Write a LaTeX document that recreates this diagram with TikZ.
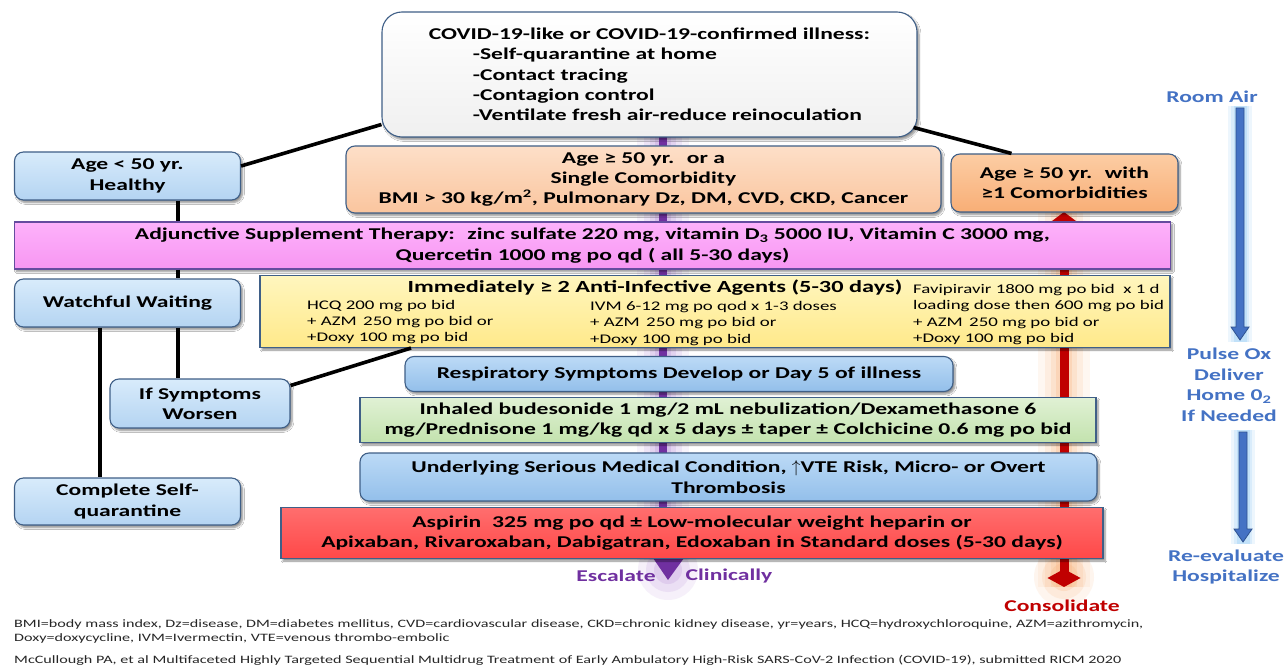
\documentclass[tikz,border=0pt]{standalone}
\usepackage{fontspec}
\setmainfont{Carlito}[FakeStretch=1.43]
\usetikzlibrary{arrows.meta,shadows.blur,calc}
\pgfdeclarelayer{bg}
\pgfsetlayers{bg,main}
\definecolor{bordc}{HTML}{3F5F87}
\definecolor{ltT}{HTML}{D8EBFB}
\definecolor{ltB}{HTML}{B4D4F2}
\definecolor{mdT}{HTML}{BCDAF6}
\definecolor{mdB}{HTML}{93BFEA}
\definecolor{pcT}{HTML}{FDDFC8}
\definecolor{pcB}{HTML}{FAC59E}
\definecolor{orT}{HTML}{FCCDA4}
\definecolor{orB}{HTML}{F8AE76}
\definecolor{pkT}{HTML}{FDB2FB}
\definecolor{pkB}{HTML}{F796F2}
\definecolor{ywT}{HTML}{FFF6BE}
\definecolor{ywB}{HTML}{FFE98A}
\definecolor{gnT}{HTML}{E0F1D4}
\definecolor{gnB}{HTML}{C3E2AE}
\definecolor{rdT}{HTML}{FF6E6E}
\definecolor{rdB}{HTML}{FF4848}
\definecolor{purp}{HTML}{7030A0}
\definecolor{purpglow}{HTML}{B58AD8}
\definecolor{redc}{HTML}{C00000}
\definecolor{orglow}{HTML}{F9B27A}
\definecolor{bluet}{HTML}{4472C4}
\definecolor{blueD}{HTML}{2F528F}
\definecolor{blueglow}{HTML}{8CC8F5}
\tikzset{
  box/.style={draw=bordc, line width=1.1pt, rounded corners=9pt, inner sep=0pt, align=center,
    font=\bfseries\fontsize{16.5}{20.3}\selectfont,
    blur shadow={shadow xshift=2pt, shadow yshift=-2.5pt, shadow blur steps=6, shadow opacity=45}},
  sq/.style={rounded corners=0pt},
  ltbox/.style={box, top color=ltT, bottom color=ltB},
  mdbox/.style={box, top color=mdT, bottom color=mdB},
  boxtext/.style={inner sep=0pt, align=center, font=\bfseries\fontsize{16.5}{20.3}\selectfont},
  coltext/.style={inner sep=0pt, align=left, anchor=west, font=\fontsize{13.2}{16.4}\selectfont},
  conn/.style={line width=3.6pt, draw=black},
  bluelab/.style={inner sep=0pt, align=center, text=bluet, font=\bfseries\fontsize{16.5}{20.5}\selectfont},
  foot/.style={inner sep=0pt, anchor=west, text=black!85, font=\fontsize{11.3}{14}\selectfont},
}
\begin{document}
\begin{tikzpicture}[x=1pt,y=-1pt]
\useasboundingbox (0,0) rectangle (1288,666);

% ---- boxes ----
\node[box, align=left, top color=white, bottom color=black!6, rounded corners=20pt, minimum width=535pt, minimum height=125pt] (top) at (649.5,74.5)
 {COVID-19-like or COVID-19-confirmed illness:\\
  \hspace*{44pt}-Self-quarantine at home\\
  \hspace*{44pt}-Contact tracing\\
  \hspace*{44pt}-Contagion control\\
  \hspace*{44pt}-Ventilate fresh air-reduce reinoculation};
\node[ltbox, minimum width=226pt, minimum height=48pt] (young) at (127.5,176) {Age < 50 yr.\\Healthy};
\node[box, top color=pcT, bottom color=pcB, minimum width=595pt, minimum height=67pt] (old1) at (643.5,179.5)
 {Age ≥ 50 yr. \ or a\\Single Comorbidity\\BMI > 30 kg/m\textsuperscript{2}, Pulmonary Dz, DM, CVD, CKD, Cancer};
\node[box, top color=orT, bottom color=orB, minimum width=227pt, minimum height=58pt] (old2) at (1064.5,183)
 {Age ≥ 50 yr. \ with\\≥1 Comorbidities};
\node[box, sq, draw=bordc!80!magenta, top color=pkT, bottom color=pkB, minimum width=1156pt, minimum height=47pt] (adj) at (592.5,245.5)
 {Adjunctive Supplement Therapy: \ zinc sulfate 220 mg, vitamin D\textsubscript{3} 5000 IU, Vitamin C 3000 mg,\\Quercetin 1000 mg po qd ( all 5-30 days)};
\node[ltbox, minimum width=226pt, minimum height=48pt] (watch) at (127.5,303) {Watchful Waiting};
\node[box, sq, top color=ywT, bottom color=ywB, minimum width=910pt, minimum height=72pt] (anti) at (715,311.5) {};
\node[boxtext, font=\bfseries\fontsize{17}{20}\selectfont] (antiT) at (655,288) {Immediately ≥ 2 Anti-Infective Agents (5-30 days)};
\node[coltext] (col1) at (307,322) {HCQ 200 mg po bid\\+ AZM \,250 mg po bid or\\+Doxy 100 mg po bid};
\node[coltext] (col2) at (590,323.5) {IVM 6-12 mg po qod x 1-3 doses\\+ AZM \,250 mg po bid or\\+Doxy 100 mg po bid};
\node[coltext] (col3) at (913,314.5) {Favipiravir 1800 mg po bid \ x 1 d\\loading dose then 600 mg po bid\\+ AZM \,250 mg po bid or\\+Doxy 100 mg po bid};
\node[ltbox, minimum width=180pt, minimum height=49pt] (sympt) at (200,403.5) {If Symptoms\\Worsen};
\node[mdbox, minimum width=548pt, minimum height=35pt] (resp) at (679,374) {Respiratory Symptoms Develop or Day 5 of illness};
\node[box, sq, top color=gnT, bottom color=gnB, minimum width=736pt, minimum height=45pt] (inh) at (728,420)
 {Inhaled budesonide 1 mg/2 mL nebulization/Dexamethasone 6\\mg/Prednisone 1 mg/kg qd x 5 days ± taper ± Colchicine 0.6 mg po bid};
\node[mdbox, minimum width=737pt, minimum height=48pt] (under) at (728.5,477)
 {Underlying Serious Medical Condition, $\uparrow$VTE Risk, Micro- or Overt\\Thrombosis};
\node[ltbox, minimum width=226pt, minimum height=47pt] (compl) at (127.5,501.5) {Complete Self-\\quarantine};
\node[box, sq, top color=rdT, bottom color=rdB, minimum width=822pt, minimum height=51pt] (asp) at (692,533)
 {Aspirin \ 325 mg po qd ± Low-molecular weight heparin or\\Apixaban, Rivaroxaban, Dabigatran, Edoxaban in Standard doses (5-30 days)};

% ---- side labels ----
\node[bluelab, text=purp] (esc) at (616,576) {Escalate};
\node[bluelab, text=purp] (clin) at (729,576) {Clinically};
\node[bluelab, text=redc] (cons) at (1062,606) {Consolidate};
\node[bluelab] (room) at (1212,97) {Room Air};
\node[bluelab] (pulse) at (1229,385) {Pulse Ox\\Deliver\\Home 0\textsubscript{2}\\If Needed};
\node[bluelab] (reev) at (1226,567) {Re-evaluate\\Hospitalize};

% ---- guide arrows (behind boxes) ----
\coordinate (pA) at (663,137);
\coordinate (pB) at (663,560);
\coordinate (pT) at (668,580);
\coordinate (rA) at (1064,212);
\coordinate (rB) at (1064,587);
\begin{pgfonlayer}{bg}
  \fill[white] (0,0) rectangle (1288,666);
  \foreach \w/\o in {52/0.10,38/0.14,26/0.18,16/0.25} {
    \draw[line width=\w pt, draw=purpglow, opacity=\o] (pA) -- (pB);
    \draw[line width=\w pt, draw=orglow, opacity=\o] (rA) -- (rB);
  }
  \foreach \r/\o in {30/0.12,22/0.16,14/0.22} {
    \fill[purpglow, opacity=\o] (668,570) circle (\r pt);
    \fill[orglow, opacity=\o] (1064,577) circle (\r pt);
  }
  \draw[line width=8pt, draw=purp] (pA) -- (pB);
  \fill[purp] (653,558) -- (684,558) -- (pT) -- cycle;
  \draw[line width=9pt, draw=redc, {Triangle[width=26pt,length=10pt]}-{Diamond[width=33pt,length=18pt]}] (rA) -- (rB);
  % blue arrows
  \foreach \w/\o in {24/0.15,18/0.2,13/0.3} {
    \draw[line width=\w pt, draw=blueglow, opacity=\o] (1240,106) -- (1240,342);
    \draw[line width=\w pt, draw=blueglow, opacity=\o] (1243,430) -- (1243,544);
  }
\end{pgfonlayer}
\filldraw[fill=bluet, draw=blueD, line width=0.8pt] (1236,108) -- (1244,108) -- (1244,327) -- (1249,327) -- (1240,340) -- (1231,327) -- (1236,327) -- cycle;
\filldraw[fill=bluet, draw=blueD, line width=0.8pt] (1239,432) -- (1247,432) -- (1247,529) -- (1252,529) -- (1243,542) -- (1234,529) -- (1239,529) -- cycle;

% ---- connectors ----
\draw[conn] ([yshift=-50pt]top.west) -- ([yshift=10pt]young.east);
\draw[conn] ([xshift=-4pt,yshift=-53pt]top.east) -- ([xshift=-53pt]old2.north);
\draw[conn] ([xshift=50.5pt]young.south) -- ([xshift=50.5pt]young.south |- adj.north);
\draw[conn] ([xshift=50.5pt]adj.south -| young.south) -- ([xshift=50.5pt]watch.north);
\draw[conn] ([xshift=50.5pt]watch.south) -- ([xshift=50.5pt]watch.south |- sympt.north);
\draw[conn] ([xshift=-27.5pt]watch.south) -- ([xshift=-27.5pt]watch.south |- compl.north);
\draw[conn] ([yshift=18pt]sympt.east) -- ([xshift=-304pt]anti.south);

% ---- footer ----
\node[foot] (f1) at (14,624) {BMI=body mass index, Dz=disease, DM=diabetes mellitus, CVD=cardiovascular disease, CKD=chronic kidney disease, yr=years, HCQ=hydroxychloroquine, AZM=azithromycin,};
\node[foot] (f2) at (14,638) {Doxy=doxycycline, IVM=Ivermectin, VTE=venous thrombo-embolic};
\node[foot] (f3) at (14,660) {McCullough PA, et al Multifaceted Highly Targeted Sequential Multidrug Treatment of Early Ambulatory High-Risk SARS-CoV-2 Infection (COVID-19), submitted RICM 2020};
\end{tikzpicture}
\end{document}
